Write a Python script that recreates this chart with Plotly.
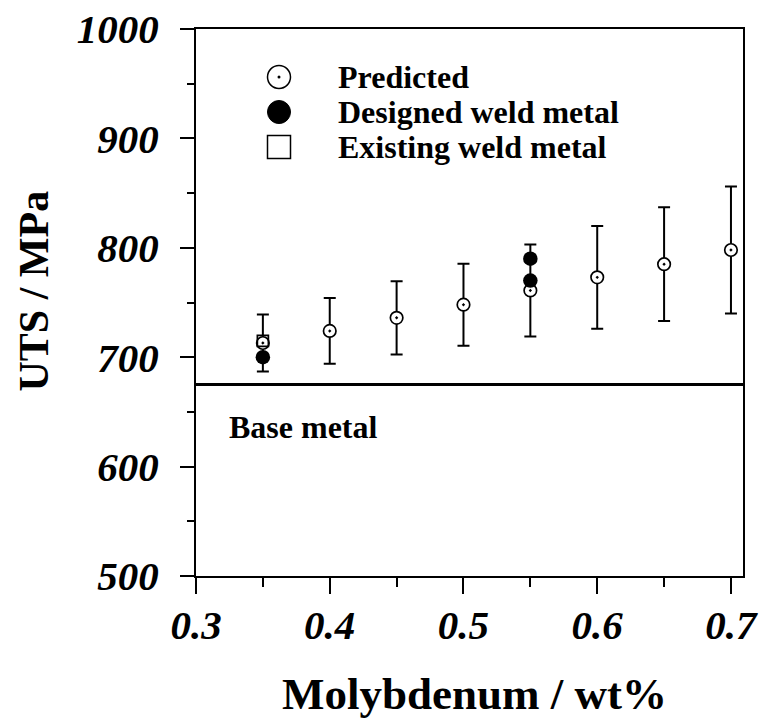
import plotly.graph_objects as go

# Molybdenum content (wt%) of the predicted compositions
mo_pred = [0.35, 0.40, 0.45, 0.50, 0.55, 0.60, 0.65, 0.70]
uts_pred = [713, 724, 736, 748, 761, 773, 785, 798]
uts_pred_err = [26, 30, 33.5, 37.5, 42, 47, 52, 58]

# Designed weld metals
mo_designed = [0.35, 0.55, 0.55]
uts_designed = [700, 770, 790]

# Existing weld metal
mo_existing = [0.35]
uts_existing = [715]

# Base metal strength
uts_base = 675

x_ticks = [0.3, 0.4, 0.5, 0.6, 0.7]
y_ticks = [500, 600, 700, 800, 900, 1000]

SERIF = "Liberation Serif"
W, H = 762, 721
L, R, T, B = 196, 19, 29, 145
PW, PH = W - L - R, H - T - B


def px(x):
    return (x - L) / PW


def py(y):
    return (H - B - y) / PH


fig = go.Figure()

fig.add_trace(go.Scatter(
    x=mo_pred, y=uts_pred, mode="markers", name="Predicted",
    marker=dict(symbol="circle-dot", size=12.5, color="white",
                line=dict(color="black", width=1.7)),
    error_y=dict(type="data", array=uts_pred_err, visible=True,
                 color="black", thickness=2, width=6),
))
fig.add_trace(go.Scatter(
    x=mo_existing, y=uts_existing, mode="markers", name="Existing weld metal",
    marker=dict(symbol="square-open", size=11, color="black",
                line=dict(color="black", width=1.7)),
))
fig.add_trace(go.Scatter(
    x=mo_designed, y=uts_designed, mode="markers", name="Designed weld metal",
    marker=dict(symbol="circle", size=14.5, color="black",
                line=dict(color="black", width=0)),
))

shapes = [
    dict(type="line", xref="paper", x0=0, x1=1, yref="y",
         y0=uts_base, y1=uts_base, line=dict(color="black", width=3)),
]

# Hand-drawn key
key_x = px(279)
key_rows = [
    ("Predicted", py(77)),
    ("Designed weld metal", py(112)),
    ("Existing weld metal", py(147)),
]
r = 11.5
shapes += [
    dict(type="circle", xref="paper", yref="paper", xsizemode="pixel", ysizemode="pixel",
         xanchor=key_x, yanchor=key_rows[0][1], x0=-r, x1=r, y0=-r, y1=r,
         line=dict(color="black", width=1.5), fillcolor="white"),
    dict(type="circle", xref="paper", yref="paper", xsizemode="pixel", ysizemode="pixel",
         xanchor=key_x, yanchor=key_rows[0][1], x0=-1.5, x1=1.5, y0=-1.5, y1=1.5,
         line=dict(color="black", width=0), fillcolor="black"),
    dict(type="circle", xref="paper", yref="paper", xsizemode="pixel", ysizemode="pixel",
         xanchor=key_x, yanchor=key_rows[1][1], x0=-r, x1=r, y0=-r, y1=r,
         line=dict(color="black", width=1), fillcolor="black"),
    dict(type="rect", xref="paper", yref="paper", xsizemode="pixel", ysizemode="pixel",
         xanchor=key_x, yanchor=key_rows[2][1], x0=-r, x1=r, y0=-r, y1=r,
         line=dict(color="black", width=1.5), fillcolor="white"),
]

bold32 = dict(family=SERIF, size=32, color="black", weight="bold")
annotations = []
for label, yy in key_rows:
    annotations.append(dict(
        text=label, xref="paper", yref="paper", x=px(336), y=yy,
        xanchor="left", yanchor="middle", showarrow=False, font=bold32,
    ))
annotations.append(dict(
    text="Base metal", xref="paper", yref="paper", x=px(227), y=py(427),
    xanchor="left", yanchor="middle", showarrow=False, font=bold32,
))

# Axis titles
annotations.append(dict(
    text="Molybdenum / wt%", xref="paper", yref="paper", x=px(474.5), y=py(694),
    xanchor="center", yanchor="middle", showarrow=False,
    font=dict(family=SERIF, size=45, color="black", weight="bold"),
))
annotations.append(dict(
    text="UTS / MPa", xref="paper", yref="paper", x=px(33), y=py(291.5),
    xanchor="center", yanchor="middle", textangle=-90, showarrow=False,
    font=dict(family=SERIF, size=42, color="black", weight="bold"),
))

tick_font = dict(family=SERIF, size=41, color="black", weight="bold", style="italic")

fig.update_layout(
    width=W, height=H,
    margin=dict(l=L, r=R, t=T, b=B, autoexpand=False),
    paper_bgcolor="white", plot_bgcolor="white",
    showlegend=False,
    shapes=shapes, annotations=annotations,
    xaxis=dict(
        range=[0.3, 0.709], tickvals=x_ticks, ticktext=[f"{v:.1f}" for v in x_ticks],
        ticks="outside", ticklen=16, tickwidth=2, tickcolor="black",
        minor=dict(dtick=0.05, tick0=0.3, ticks="outside", ticklen=9, tickwidth=2,
                   tickcolor="black", showgrid=False),
        showline=True, linecolor="black", linewidth=2, mirror=True,
        showgrid=False, zeroline=False, tickfont=tick_font, ticklabelstandoff=-4,
    ),
    yaxis=dict(
        range=[500, 1000], tickvals=y_ticks,
        ticks="outside", ticklen=14, tickwidth=2, tickcolor="black",
        minor=dict(dtick=50, tick0=500, ticks="outside", ticklen=7, tickwidth=2,
                   tickcolor="black", showgrid=False),
        showline=True, linecolor="black", linewidth=2, mirror=True,
        showgrid=False, zeroline=False, tickfont=tick_font, ticklabelstandoff=13,
    ),
)

fig.write_html("out.html")
